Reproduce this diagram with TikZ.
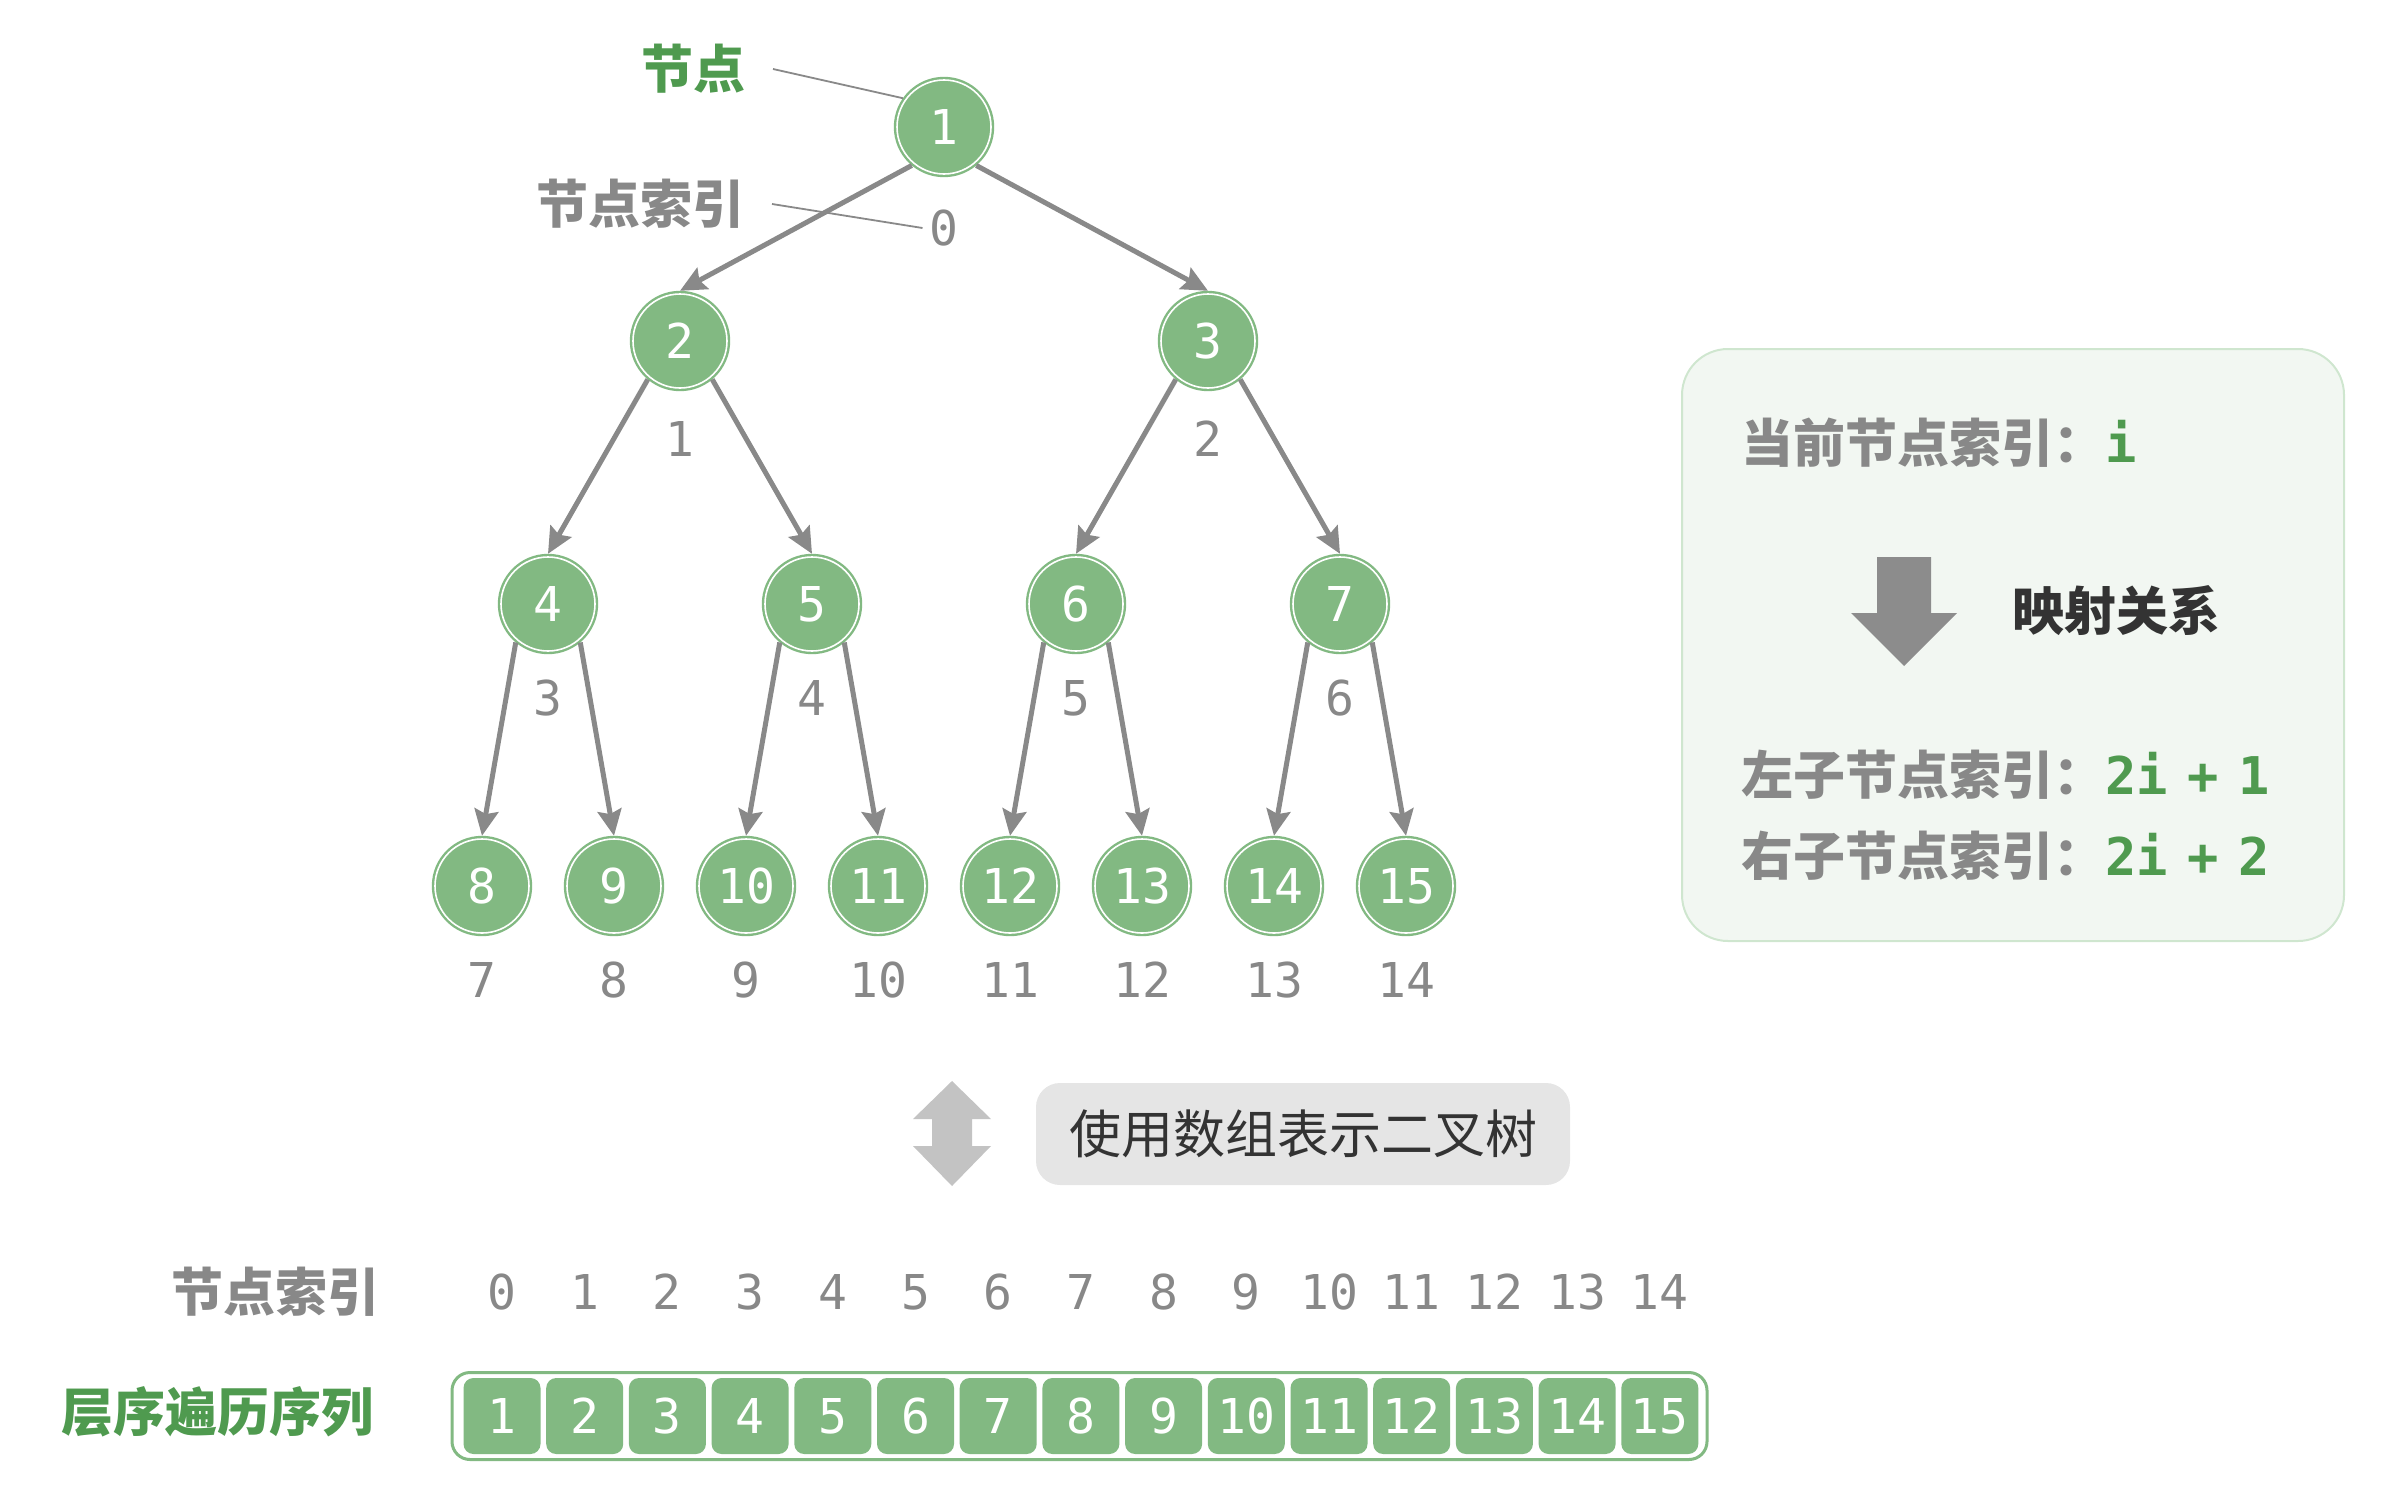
\documentclass[tikz,border=0pt]{standalone}
\usepackage{fontspec}
\usepackage{xcolor}
\usetikzlibrary{shapes,arrows.meta}
\newfontfamily\cjk{Noto Sans CJK SC}
\newfontfamily\mono{DejaVu Sans Mono}
\definecolor{nodegreen}{HTML}{82B982}
\definecolor{textgreen}{HTML}{4F9A4F}
\definecolor{idxgray}{HTML}{888888}
\definecolor{edgegray}{HTML}{898989}
\definecolor{boxfill}{HTML}{F2F7F2}
\definecolor{boxline}{HTML}{CFE6CF}
\definecolor{taggray}{HTML}{E5E5E5}
\definecolor{darktext}{HTML}{333333}
\definecolor{dblgray}{HTML}{C3C3C3}
\definecolor{downgray}{HTML}{8C8C8C}

\begin{document}
\begin{tikzpicture}[x=0.5pt,y=-0.5pt,
	tnode/.style={circle,fill=nodegreen,draw=nodegreen,double=white,double distance=0.8pt,line width=1.2pt,minimum size=47pt,inner sep=0pt,outer sep=1.6pt,text=white,font=\mono\fontsize{24}{28}\selectfont},
	idx/.style={text=idxgray,font=\mono\fontsize{24}{28}\selectfont},
	childarrow/.style={draw=edgegray,line width=2.5pt,-{Stealth[length=13pt,width=12pt,inset=2pt]}},
	pointer/.style={draw=edgegray,line width=0.9pt},
	cjkb/.style={font=\cjk\bfseries\fontsize{26}{30}\selectfont},
	cell/.style={fill=nodegreen,rounded corners=5pt,minimum width=38.5pt,minimum height=38pt,inner sep=0pt,text=white,font=\mono\fontsize{24}{28}\selectfont}]
	\useasboundingbox (0,0) rectangle (2391,1499);
	\node[tnode] (n1) at (944,127) {1};
	\node[tnode] (n2) at (680,341) {2};
	\node[tnode] (n3) at (1208,341) {3};
	\node[tnode] (n4) at (548,604) {4};
	\node[tnode] (n5) at (812,604) {5};
	\node[tnode] (n6) at (1076,604) {6};
	\node[tnode] (n7) at (1340,604) {7};
	\node[tnode] (n8) at (482,886) {8};
	\node[tnode] (n9) at (614,886) {9};
	\node[tnode] (n10) at (746,886) {10};
	\node[tnode] (n11) at (878,886) {11};
	\node[tnode] (n12) at (1010,886) {12};
	\node[tnode] (n13) at (1142,886) {13};
	\node[tnode] (n14) at (1274,886) {14};
	\node[tnode] (n15) at (1406,886) {15};
	\node[idx] (i0) at (944,228) {0};
	\node[idx] (i1) at (680,439) {1};
	\node[idx] (i2) at (1208,439) {2};
	\node[idx] (i3) at (548,698) {3};
	\node[idx] (i4) at (812,698) {4};
	\node[idx] (i5) at (1076,698) {5};
	\node[idx] (i6) at (1340,698) {6};
	\node[idx] (i7) at (482,980) {7};
	\node[idx] (i8) at (614,980) {8};
	\node[idx] (i9) at (746,980) {9};
	\node[idx] (i10) at (878,980) {10};
	\node[idx] (i11) at (1010,980) {11};
	\node[idx] (i12) at (1142,980) {12};
	\node[idx] (i13) at (1274,980) {13};
	\node[idx] (i14) at (1406,980) {14};
	\draw[childarrow] (n1.-130) -- (n2.north);
	\draw[childarrow] (n1.-50) -- (n3.north);
	\draw[childarrow] (n2.-130) -- (n4.north);
	\draw[childarrow] (n2.-50) -- (n5.north);
	\draw[childarrow] (n3.-130) -- (n6.north);
	\draw[childarrow] (n3.-50) -- (n7.north);
	\draw[childarrow] (n4.-130) -- (n8.north);
	\draw[childarrow] (n4.-50) -- (n9.north);
	\draw[childarrow] (n5.-130) -- (n10.north);
	\draw[childarrow] (n5.-50) -- (n11.north);
	\draw[childarrow] (n6.-130) -- (n12.north);
	\draw[childarrow] (n6.-50) -- (n13.north);
	\draw[childarrow] (n7.-130) -- (n14.north);
	\draw[childarrow] (n7.-50) -- (n15.north);
	\node[cjkb,text=textgreen,anchor=east] (lnode) at (753,69) {节点};
	\node[cjkb,text=idxgray,anchor=east] (lidx) at (752,204) {节点索引};
	\draw[pointer] ([xshift=10pt]lnode.east) -- (n1.145);
	\draw[pointer] ([xshift=10pt]lidx.east) -- (i0.west);
	\node[draw=boxline,fill=boxfill,line width=1pt,rounded corners=23pt,minimum width=331pt,minimum height=296pt] (box) at (2013,645) {};
	\node[cjkb,text=idxgray,anchor=west] (cur) at (1734,443) {当前节点索引：{\mono\bfseries\color{textgreen}i}};
	\fill[downgray] (1877,557) -- (1931,557) -- (1931,613) -- (1957,613) -- (1904,666) -- (1851,613) -- (1877,613) -- cycle;
	\node[cjkb,text=darktext,anchor=west] (map) at (2005,611) {映射关系};
	\node[cjkb,text=idxgray,anchor=west] (lchild) at (1734,775) {左子节点索引：{\mono\bfseries\color{textgreen}2i\hspace{10pt}+\hspace{10pt}1}};
	\node[cjkb,text=idxgray,anchor=west] (rchild) at (1734,856) {右子节点索引：{\mono\bfseries\color{textgreen}2i\hspace{10pt}+\hspace{10pt}2}};
	\fill[dblgray] (952,1081) -- (991,1119) -- (972,1119) -- (972,1146) -- (991,1146) -- (952,1186) -- (913,1146) -- (932,1146) -- (932,1119) -- (913,1119) -- cycle;
	\node[fill=taggray,rounded corners=12pt,minimum width=267pt,minimum height=51pt,text=darktext,font=\cjk\fontsize{26}{30}\selectfont] (tag) at (1303,1134) {使用数组表示二叉树};
	\node[cjkb,text=idxgray,anchor=east] (lrow) at (387,1292) {节点索引};
	\node[cjkb,text=textgreen,anchor=east] (lseq) at (381,1412) {层序遍历序列};
	\node[draw=nodegreen,fill=white,line width=1.5pt,rounded corners=9pt,minimum width=627.5pt,minimum height=43.5pt] (arr) at (1079.5,1416) {};
	\foreach \k [evaluate=\k as \x using 502+82.7*\k, evaluate=\k as \v using int(\k+1)] in {0,...,14} {
		\node[idx] (r\k) at (\x,1292) {\k};
		\node[cell] (c\k) at (\x,1416) {\v};
	}
\end{tikzpicture}
\end{document}
